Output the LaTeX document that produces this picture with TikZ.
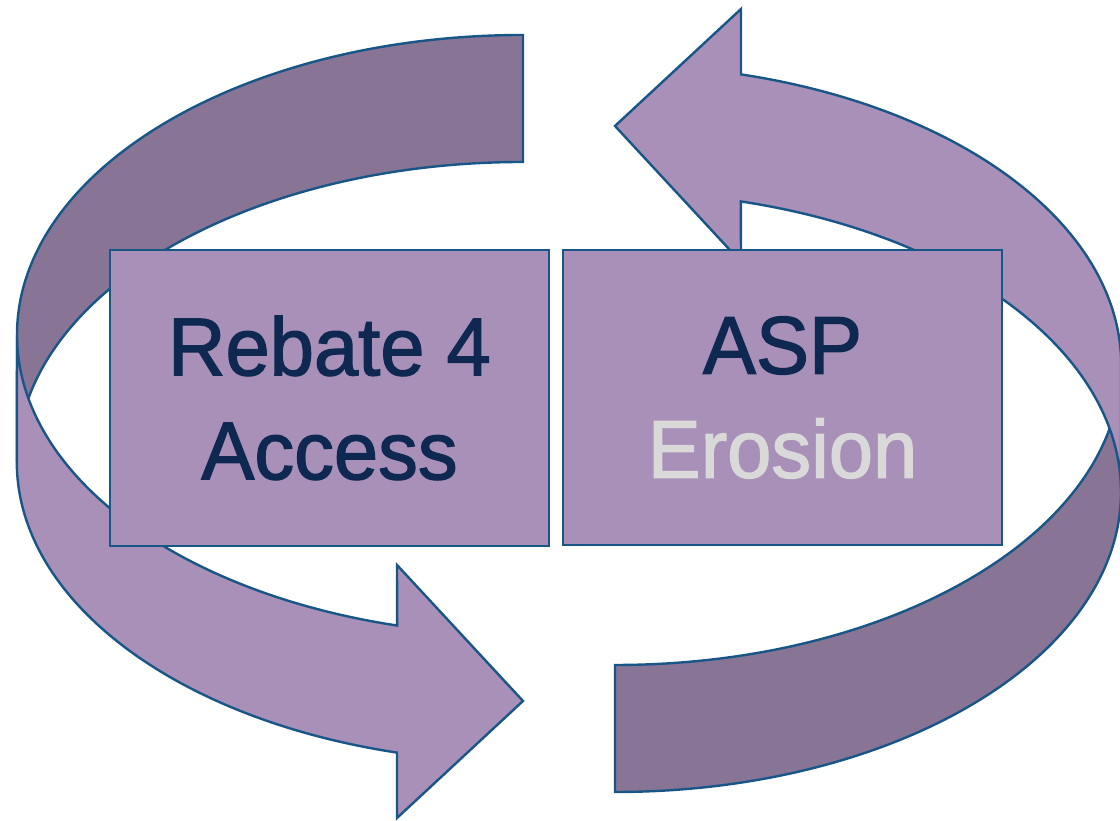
\documentclass[tikz,border=0pt]{standalone}
\usepackage{fontspec}
\setmainfont{Liberation Sans}[FakeBold=1.6,FakeStretch=0.97]
\definecolor{ringlight}{RGB}{169,144,184}
\definecolor{ringdark}{RGB}{136,117,149}
\definecolor{edgeblue}{RGB}{24,86,136}
\definecolor{navy}{RGB}{14,40,82}
\definecolor{paleGray}{RGB}{217,217,217}
\tikzset{
  backface/.style={fill=ringdark,draw=edgeblue,line width=2.4pt,line join=miter},
  frontface/.style={fill=ringlight,draw=edgeblue,line width=2.4pt,line join=miter},
  panel/.style={fill=ringlight,draw=edgeblue,line width=2.4pt,inner sep=0pt,
    align=center,text=navy,font=\fontsize{82}{104}\selectfont},
  ring/.style={x radius=506pt,y radius=300pt}
}
\begin{document}
\begin{tikzpicture}[x=1pt,y=1pt]
\useasboundingbox (0,0) rectangle (1120,821);
% one half-ring arrow: inner (back) face first, then the outer (front) face with its head
\newcommand{\halfring}{%
  \path[backface] (523,786) arc[start angle=90,end angle=180,ring]
    -- (17,359) arc[start angle=180,end angle=90,ring] -- cycle;
  \path[frontface] (17,486) arc[start angle=180,end angle=255.6,ring]
    -- (397,256) -- (523,120) -- (397,3) -- (397,68.4)
    arc[start angle=255.6,end angle=180,ring] -- cycle;}
\halfring
\begin{scope}[rotate around={180:(569,407.5)}]
\halfring
\end{scope}
\node[panel,minimum width=439pt,minimum height=296pt] (rebate) at (329.5,423)
  {Rebate 4\\Access};
\node[panel,minimum width=439pt,minimum height=295pt] (asp) at (782.5,423.5)
  {ASP\\\textcolor{paleGray}{Erosion}};
\end{tikzpicture}
\end{document}
